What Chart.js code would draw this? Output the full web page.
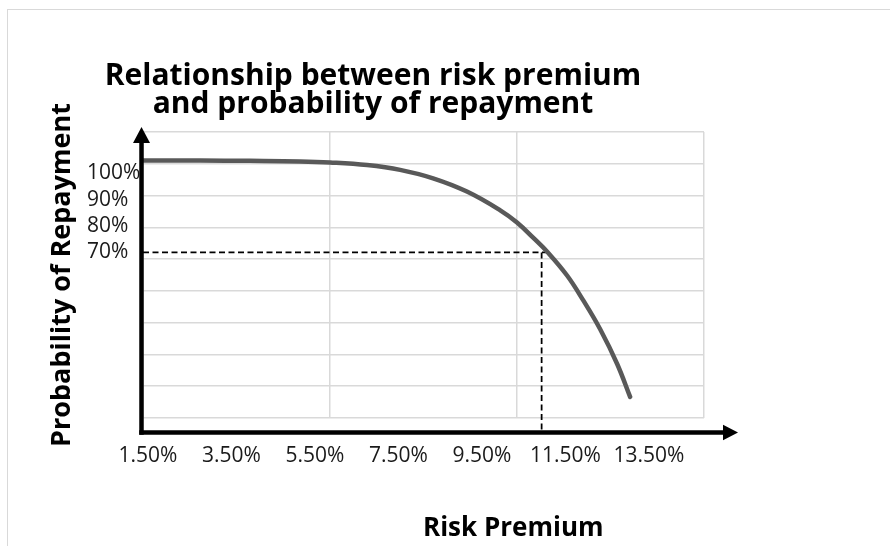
<!DOCTYPE html>
<html>
<head>
<meta charset="utf-8">
<script src="https://cdn.jsdelivr.net/npm/chart.js@4.4.1/dist/chart.umd.min.js"></script>
<style>
  html, body { margin: 0; padding: 0; background: #fff; }
  #wrap { position: relative; width: 890px; height: 546px; overflow: hidden; }
  #frame { position: absolute; left: 7px; top: 9px; width: 900px; height: 560px;
           border: 1.5px solid #d9d9d9; box-sizing: border-box; }
  canvas { position: absolute; left: 0; top: 0; }
</style>
</head>
<body>
<div id="wrap"><div id="frame"></div><canvas id="c" width="890" height="546"></canvas></div>
<script>
// Risk premium (%) and probability of repayment (%) along the curve
const riskPremium = [1.38, 2.75, 3.94, 5.14, 5.86, 6.75, 7.54, 8.33, 9.14, 9.93, 10.34, 10.72, 11.08, 11.54, 11.92, 12.33, 12.74, 13.05];
const repayment   = [104.7, 104.7, 104.6, 104.4, 104.0, 103.0, 101.2, 98.0, 93.0, 86.0, 81.3, 75.7, 70.0, 61.3, 52.1, 41.1, 27.9, 15.5];

// Tick labels
const xTicks = [1.5, 3.5, 5.5, 7.5, 9.5, 11.5, 13.5];
const yTicks = [100, 90, 80, 70];

// Reference point marked with dashed guides
const markProb = 70;
const markPremium = 10.93;
const markCurvePremium = 11.08;
const axisFloor = 2;

const titleLines = ['Relationship between risk premium', 'and probability of repayment'];
const xTitle = 'Risk Premium';
const yTitle = 'Probability of Repayment';

const FONT = "'Open Sans', 'DejaVu Sans', sans-serif";
const INK = '#000';
const GRID = '#d9d9d9';
Chart.defaults.font.family = FONT;

const xMin = 1.38, xMax = 14.82, yMin = 7.5, yMax = 115.5;

// Black arrow axes and the horizontal axis title
const arrowAxes = {
  id: 'arrowAxes',
  afterDatasetsDraw(chart) {
    const { ctx, chartArea: a } = chart;
    const ax = a.left - 1.5;
    const ay = a.bottom + 14.5;
    ctx.save();
    ctx.strokeStyle = INK;
    ctx.fillStyle = INK;
    ctx.lineWidth = 4.5;
    ctx.lineCap = 'butt';
    // vertical axis
    ctx.beginPath();
    ctx.moveTo(ax, ay + 2.25);
    ctx.lineTo(ax, a.top + 8);
    ctx.stroke();
    ctx.beginPath();
    ctx.moveTo(ax, a.top - 5);
    ctx.lineTo(ax - 8.5, a.top + 11);
    ctx.lineTo(ax + 8.5, a.top + 11);
    ctx.closePath();
    ctx.fill();
    // horizontal axis
    ctx.beginPath();
    ctx.moveTo(ax - 2.25, ay);
    ctx.lineTo(a.right + 22, ay);
    ctx.stroke();
    ctx.beginPath();
    ctx.moveTo(a.right + 34, ay);
    ctx.lineTo(a.right + 19, ay - 7.7);
    ctx.lineTo(a.right + 19, ay + 7.7);
    ctx.closePath();
    ctx.fill();
    // horizontal axis title
    ctx.font = `bold 26px ${FONT}`;
    ctx.textAlign = 'center';
    ctx.textBaseline = 'middle';
    ctx.fillText(xTitle, a.left + 0.66 * a.width, a.bottom + 111);
    ctx.restore();
  }
};

new Chart(document.getElementById('c'), {
  type: 'line',
  data: {
    datasets: [
      {
        data: riskPremium.map((x, i) => ({ x, y: repayment[i] })),
        borderColor: '#595959',
        borderWidth: 4.5,
        tension: 0.4,
        borderCapStyle: 'round',
        borderJoinStyle: 'round',
        pointRadius: 0,
        order: 0
      },
      {
        data: [{ x: xMin, y: markProb }, { x: markCurvePremium, y: markProb }],
        borderColor: INK,
        borderWidth: 1.75,
        borderDash: [6, 3.5],
        pointRadius: 0,
        order: 1
      },
      {
        data: [{ x: markPremium, y: markProb }, { x: markPremium, y: axisFloor }],
        borderColor: INK,
        borderWidth: 1.75,
        borderDash: [6, 3.5],
        pointRadius: 0,
        clip: false,
        order: 1
      }
    ]
  },
  options: {
    responsive: false,
    animation: false,
    events: [],
    devicePixelRatio: 1,
    layout: { padding: { left: 42, right: 186, top: 0, bottom: 0 } },
    plugins: {
      legend: { display: false },
      tooltip: { enabled: false },
      title: {
        display: true,
        text: titleLines,
        color: INK,
        font: { size: 30, weight: 'bold', lineHeight: 28 / 30 },
        padding: { top: 62, bottom: 14 }
      }
    },
    scales: {
      x: {
        type: 'linear', position: 'bottom', min: xMin, max: xMax,
        grid: { display: false }, border: { display: false },
        afterBuildTicks: s => { s.ticks = xTicks.map(v => ({ value: v })); },
        ticks: {
          autoSkip: false, maxRotation: 0, minRotation: 0, padding: 17.5,
          color: '#1a1a1a', font: { size: 21 },
          callback: v => Number(v).toFixed(2) + '%'
        },
        afterFit: s => { s.height = 128; }
      },
      xg: {
        type: 'linear', position: 'bottom', min: 0, max: 3,
        ticks: { display: false, stepSize: 1 },
        grid: { color: GRID, lineWidth: 1.5, drawTicks: false },
        border: { display: false }
      },
      y: {
        type: 'linear', position: 'left', min: yMin, max: yMax,
        grid: { display: false }, border: { display: false },
        afterBuildTicks: s => { s.ticks = yTicks.map(v => ({ value: v })); },
        ticks: {
          crossAlign: 'far', color: '#1a1a1a', font: { size: 21 },
          callback: v => v + '%'
        },
        afterFit: s => { s.width = 56; }
      },
      yg: {
        type: 'linear', position: 'left', weight: 1, min: 0, max: 9,
        ticks: { display: false, stepSize: 1 },
        grid: { color: GRID, lineWidth: 1.5, drawTicks: false },
        border: { display: false },
        title: {
          display: true, text: yTitle, color: INK,
          font: { size: 27, weight: 'bold' },
          padding: { top: 4, bottom: 4 }
        },
        afterFit: s => { s.width = 45; }
      }
    }
  },
  plugins: [arrowAxes]
});
</script>
</body>
</html>
